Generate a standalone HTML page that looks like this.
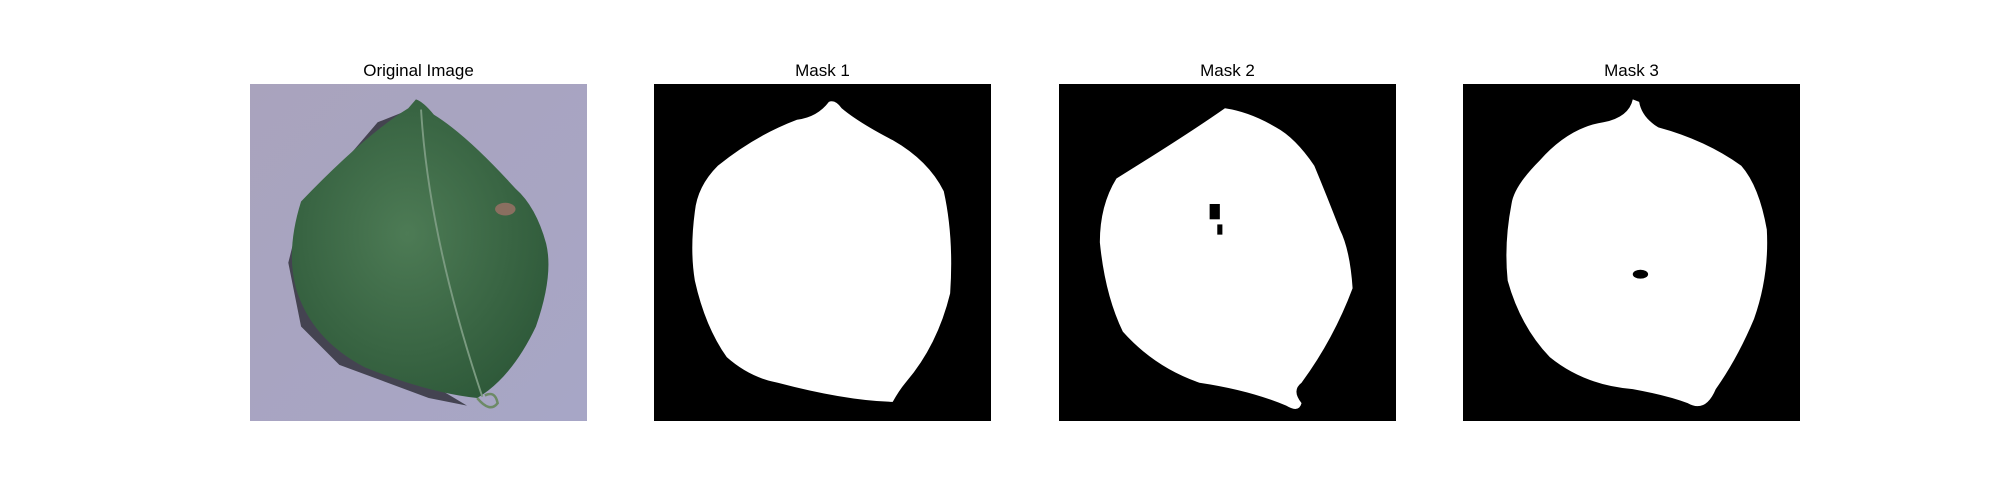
<!DOCTYPE html>
<html><head><meta charset="utf-8"><style>
html,body{margin:0;padding:0;background:#fff;}
svg{display:block;font-family:"Liberation Sans","DejaVu Sans",sans-serif;}
</style></head><body>
<svg width="2000" height="500" viewBox="0 0 2000 500">
<defs>
<linearGradient id="bg" x1="0" y1="0" x2="1" y2="1">
<stop offset="0" stop-color="#a9a3bd"/><stop offset="1" stop-color="#a7a6c6"/></linearGradient>
<radialGradient id="leafg" cx="0.45" cy="0.45" r="0.6">
<stop offset="0" stop-color="#4d7b55"/><stop offset="1" stop-color="#2f5a3a"/></radialGradient>
</defs>

<g transform="translate(250,84)">
<text x="168.5" y="-8" font-size="17" text-anchor="middle" fill="#000">Original Image</text>
<svg width="337" height="337" viewBox="0 0 264 264" preserveAspectRatio="none">
<rect width="264" height="264" fill="url(#bg)"/>
<path d="M120,22 L100,30 L40,100 L30,140 L40,190 L70,220 L140,246 L170,252 L150,240 L90,215 L55,190 Z" fill="#2b2a35" opacity="0.8"/>
<path d="M124,19 Q90,40 40,92 Q28,130 36,160 Q48,200 90,222 Q140,242 178,246 Q205,230 224,190 Q238,150 232,125 Q224,96 208,82 Q170,40 144,24 Q136,14 130,12 Z" fill="url(#leafg)"/>
<path d="M134,20 Q140,120 182,245" stroke="#7a9a80" stroke-width="1.5" fill="none"/>
<path d="M178,246 Q188,258 194,250 Q192,240 184,244" stroke="#6d8a66" stroke-width="2" fill="none"/>
<ellipse cx="200" cy="98" rx="8" ry="5" fill="#8a6f60"/>
</svg>
</g>

<g transform="translate(654,84)">
<text x="168.5" y="-8" font-size="17" text-anchor="middle" fill="#000">Mask 1</text>
<svg width="337" height="337" viewBox="0 0 264 264" preserveAspectRatio="none">
<rect width="264" height="264" fill="#000"/>
<path d="M137,14 Q128,26 112,28 Q80,40 50,64 Q34,80 32,100 Q28,130 32,154 Q40,190 57,214 Q75,230 97,234 Q150,248 187,249 Q192,240 197,234 Q222,205 232,164 Q235,120 227,84 Q215,60 187,44 Q160,30 147,19 Q142,12 137,14 Z" fill="#fff"/>
</svg>
</g>

<g transform="translate(1059,84)">
<text x="168.5" y="-8" font-size="17" text-anchor="middle" fill="#000">Mask 2</text>
<svg width="337" height="337" viewBox="0 0 264 264" preserveAspectRatio="none">
<rect width="264" height="264" fill="#000"/>
<path d="M130,19 Q100,40 45,74 Q32,95 32,124 Q36,165 50,194 Q75,222 110,234 Q150,240 178,252 Q188,258 190,250 Q182,240 190,234 Q215,200 230,160 Q228,130 220,114 Q210,88 200,64 Q185,42 170,34 Q150,22 130,19 Z" fill="#fff"/>
<rect x="118" y="94" width="8" height="12" fill="#000"/>
<rect x="124" y="110" width="4" height="8" fill="#000"/>
</svg>
</g>

<g transform="translate(1463,84)">
<text x="168.5" y="-8" font-size="17" text-anchor="middle" fill="#000">Mask 3</text>
<svg width="337" height="337" viewBox="0 0 264 264" preserveAspectRatio="none">
<rect width="264" height="264" fill="#000"/>
<path d="M133,12 Q130,26 110,30 Q83,34 60,60 Q40,80 38,94 Q32,125 35,154 Q45,190 68,214 Q95,236 133,239 Q160,244 176,250 Q190,258 198,239 Q215,215 228,184 Q240,150 238,114 Q232,80 218,64 Q190,44 153,34 Q140,26 138,14 Z" fill="#fff"/>
<ellipse cx="139" cy="149" rx="6" ry="3.5" fill="#000"/>
</svg>
</g>
</svg>
</body></html>
